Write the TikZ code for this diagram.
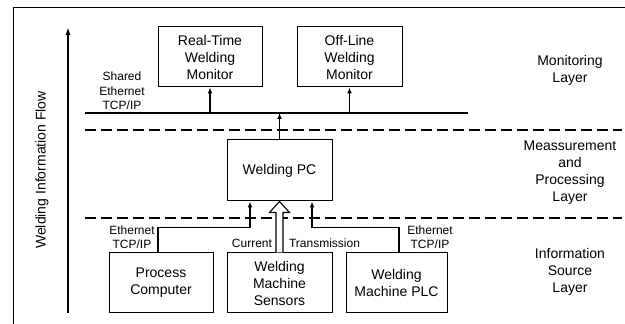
\documentclass[tikz,border=0pt]{standalone}
\usepackage{fontspec}
\setmainfont{Liberation Sans}
\usetikzlibrary{arrows.meta,calc}

\begin{document}
\begin{tikzpicture}[x=1pt,y=1pt,
  box/.style={draw,line width=1pt,inner sep=0pt,align=center,font=\fontsize{14}{17}\selectfont},
  lbl/.style={align=center,inner sep=0pt,font=\fontsize{12}{14.5}\selectfont},
  layer/.style={align=center,inner sep=0pt,font=\fontsize{14}{17}\selectfont},
  conn/.style={line width=1.7pt,-{Latex[length=6pt,width=5pt]}},
  sep/.style={line width=2.4pt,dash pattern=on 11pt off 5pt}]
  \useasboundingbox (0,0) rectangle (625,324);
  % frame and flow arrow
  \draw[line width=1pt] (13,0) -- (13,316) -- (625,316);
  \coordinate (flowA) at ( 68, 11);
  \coordinate (flowB) at ( 68,297);
  \draw[line width=1.5pt,-{Latex[length=8pt,width=5pt]}] (flowA) -- (flowB);
  \node[rotate=90,font=\fontsize{14}{17}\selectfont] (flow) at (42,154) {Welding Information Flow};
  % layer separators
  \coordinate (sepA1) at ( 85,194);
  \coordinate (sepA2) at (622,194);
  \coordinate (sepB1) at ( 85,106);
  \coordinate (sepB2) at (622,106);
  \draw[sep] (sepA1) -- (sepA2);
  \draw[sep] (sepB1) -- (sepB2);
  % monitoring layer
  \node[box,minimum width=104,minimum height=60] (rtm) at (210.0,267.0) {Real-Time\\Welding\\Monitor};
  \node[box,minimum width=105,minimum height=60] (olm) at (349.5,267.0) {Off-Line\\Welding\\Monitor};
  \coordinate (busL) at ( 85,211);
  \coordinate (busR) at (468,211);
  \draw[line width=1.9pt] (busL) -- (busR);
  \node[lbl] (bus) at (122,233) {Shared\\Ethernet\\TCP/IP};
  \draw[conn] (rtm.south |- busL) -- (rtm.south);
  \draw[conn] (olm.south |- busL) -- (olm.south);
  % measurement and processing layer
  \node[box,minimum width=105,minimum height=61] (pc) at (279.5,153.5) {Welding PC};
  \draw[conn] (pc.north) -- (pc.north |- busL);
  % information source layer
  \node[box,minimum width=104,minimum height=60] (proc) at (161.0,41.0) {Process\\Computer};
  \node[box,minimum width=105,minimum height=60] (sens) at (279.5,41.0) {Welding\\Machine\\Sensors};
  \node[box,minimum width=101,minimum height=60] (plc)  at (396.5,41.0) {Welding\\Machine PLC};
  \draw[conn] ($(proc.north)+(-3,0)$) |- ($(pc.south)+(-29.5,-26)$) -- ($(pc.south)+(-29.5,0)$);
  \draw[conn] ($(plc.north)+(2.5,0)$) |- ($(pc.south)+(32.5,-26)$) -- ($(pc.south)+(32.5,0)$);
  \draw[line width=1.1pt,fill=white] ($(sens.north)+(-3.5,0)$) -- ($(pc.south)+(-3.5,-11)$)
    -- ($(pc.south)+(-10,-11)$) -- (pc.south) -- ($(pc.south)+(10,-11)$)
    -- ($(pc.south)+(3.5,-11)$) -- ($(sens.north)+(3.5,0)$);
  \node[lbl] (ethL) at (132,87) {Ethernet\\TCP/IP};
  \node[lbl] (ethR) at (430,87) {Ethernet\\TCP/IP};
  \node[lbl] (cur)  at (252,81) {Current};
  \node[lbl] (tra)  at (324.5,81) {Transmission};
  % layer names
  \node[layer] (monL) at (570,254) {Monitoring\\Layer};
  \node[layer] (mpL)  at (570,151) {Meassurement\\and\\Processing\\Layer};
  \node[layer] (isL)  at (570, 52) {Information\\Source\\Layer};
\end{tikzpicture}
\end{document}
